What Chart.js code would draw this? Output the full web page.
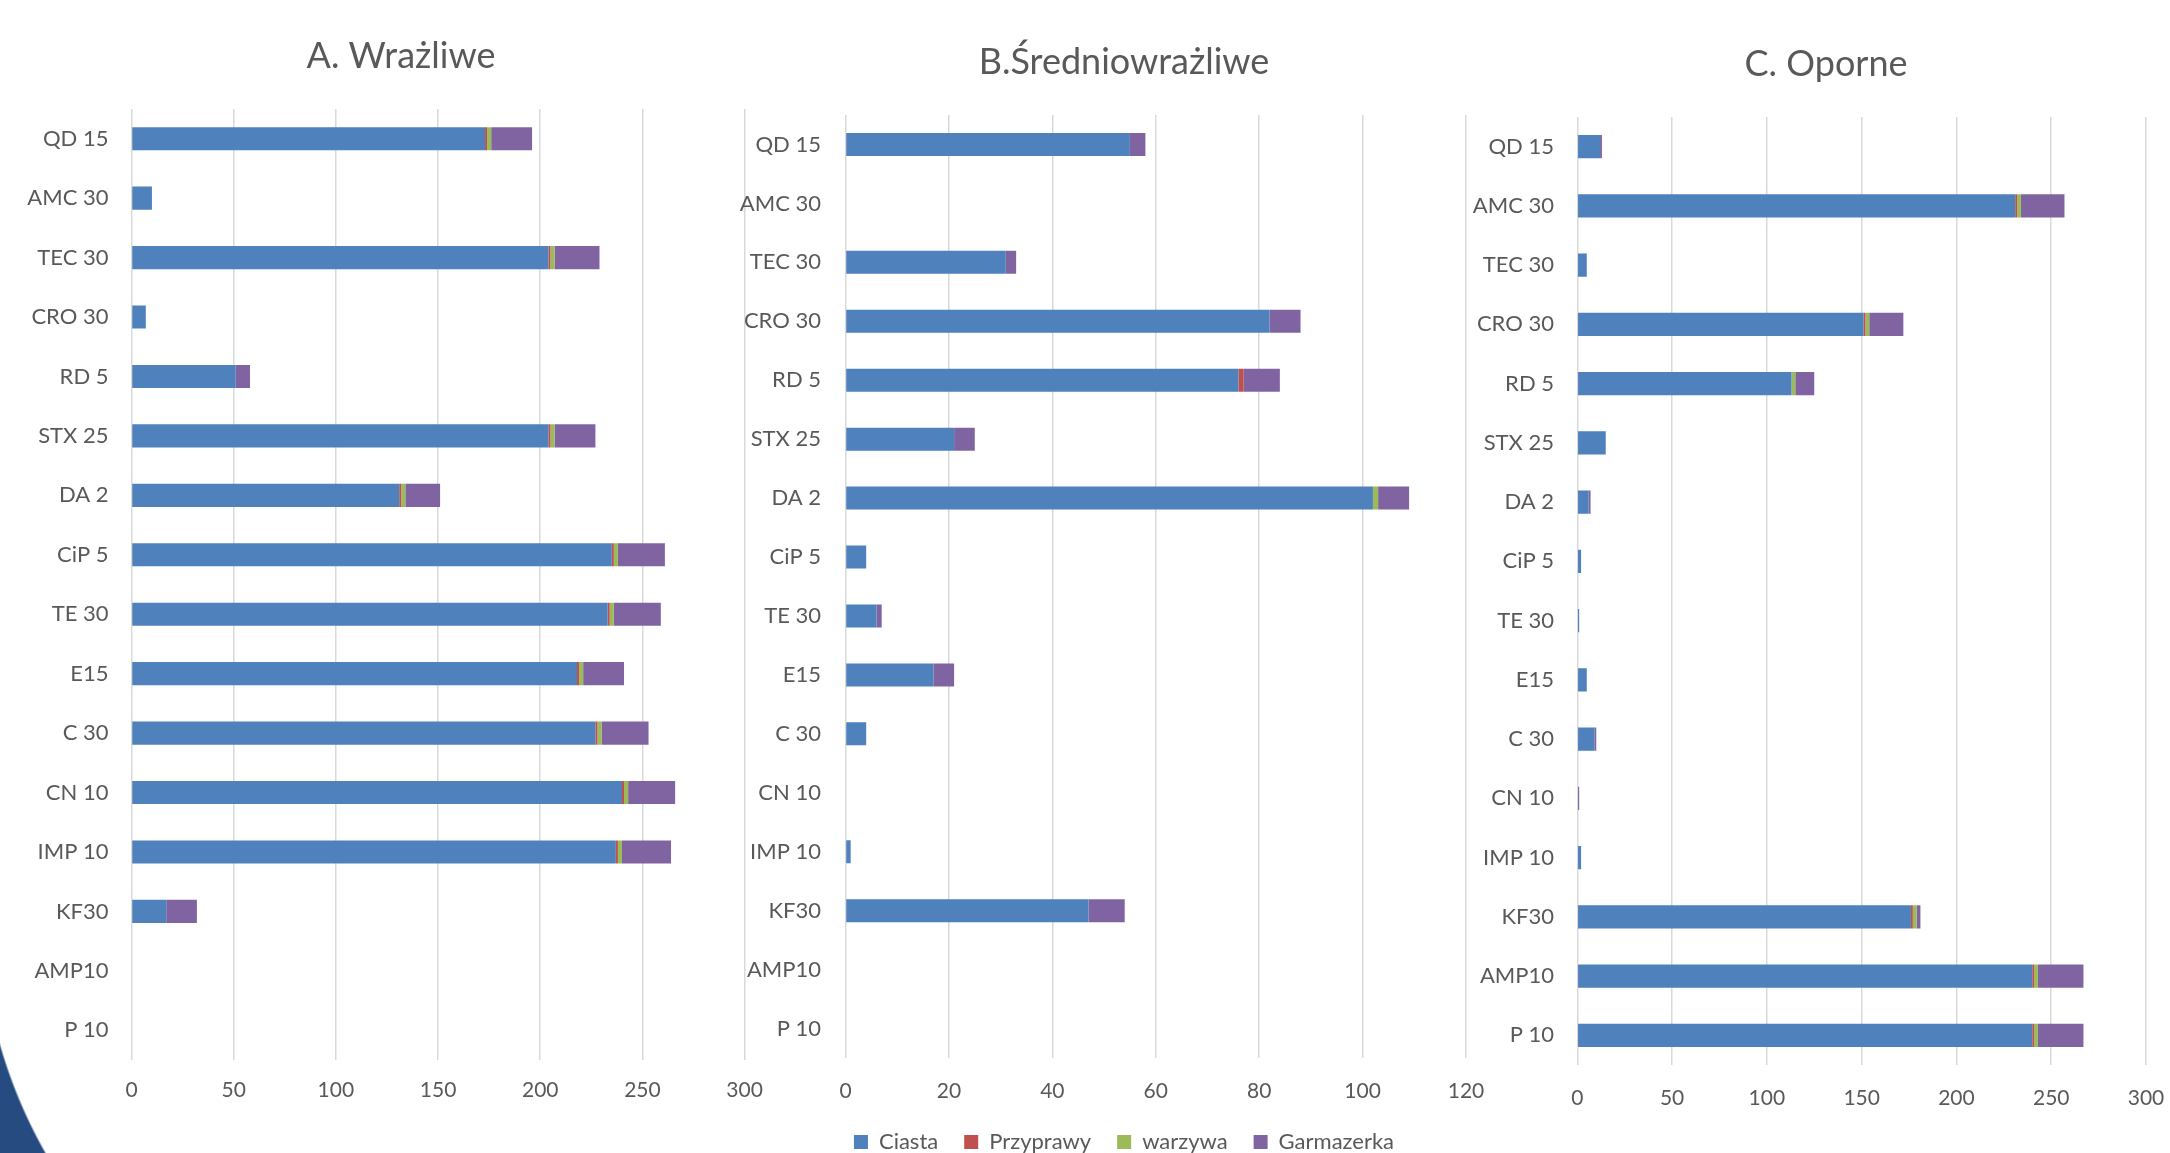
<!DOCTYPE html>
<html lang="pl">
<head>
<meta charset="utf-8">
<title>Wrażliwe / Średniowrażliwe / Oporne</title>
<script src="https://cdn.jsdelivr.net/npm/chart.js@4.4.1/dist/chart.umd.min.js"></script>
<style>
    html, body { margin: 0; padding: 0; width: 2170px; height: 1153px; overflow: hidden; background: #fff; }
    canvas { position: absolute; top: 0; }
    #chartA { left: 0; }
    #chartB { left: 730px; }
    #chartC { left: 1460px; }
    /* dark arc from the slide background, bottom-left corner */
    .corner {
        position: absolute; left: 0; top: 960px; width: 120px; height: 193px;
        background: radial-gradient(circle 494px at 475px -51px, rgba(255,255,255,0) 493px, #264b80 495px);
    }
</style>
</head>
<body>
<div class="corner"></div>
<canvas id="chartA" width="802" height="1153"></canvas>
<canvas id="chartB" width="788" height="1163"></canvas>
<canvas id="chartC" width="732" height="1153"></canvas>
<script>
// Categories (top to bottom)
const categories = ['QD 15', 'AMC 30', 'TEC 30', 'CRO 30', 'RD 5', 'STX 25', 'DA 2', 'CiP 5',
    'TE 30', 'E15', 'C 30', 'CN 10', 'IMP 10', 'KF30', 'AMP10', 'P 10'];

const seriesNames = ['Ciasta', 'Przyprawy', 'warzywa', 'Garmazerka'];
const seriesColors = ['#4F81BD', '#C0504D', '#9BBB59', '#8064A2'];

// A. Wrażliwe
const ciastaA     = [173, 10, 204, 7, 51, 204, 131, 235, 233, 218, 227, 240, 237, 17, 0, 0];
const przyprawyA  = [1, 0, 1, 0, 0, 1, 1, 1, 1, 1, 1, 1, 1, 0, 0, 0];
const warzywaA    = [2, 0, 2, 0, 0, 2, 2, 2, 2, 2, 2, 2, 2, 0, 0, 0];
const garmazerkaA = [20, 0, 22, 0, 7, 20, 17, 23, 23, 20, 23, 23, 24, 15, 0, 0];

// B. Średniowrażliwe
const ciastaB     = [55, 0, 31, 82, 76, 21, 102, 4, 6, 17, 4, 0, 1, 47, 0, 0];
const przyprawyB  = [0, 0, 0, 0, 1, 0, 0, 0, 0, 0, 0, 0, 0, 0, 0, 0];
const warzywaB    = [0, 0, 0, 0, 0, 0, 1, 0, 0, 0, 0, 0, 0, 0, 0, 0];
const garmazerkaB = [3, 0, 2, 6, 7, 4, 6, 0, 1, 4, 0, 0, 0, 7, 0, 0];

// C. Oporne
const ciastaC     = [12, 231, 5, 151, 113, 15, 6, 2, 1, 5, 9, 0, 2, 176, 240, 240];
const przyprawyC  = [0, 1, 0, 1, 0, 0, 0, 0, 0, 0, 0, 0, 0, 1, 1, 1];
const warzywaC    = [0, 2, 0, 2, 2, 0, 0, 0, 0, 0, 0, 0, 0, 2, 2, 2];
const garmazerkaC = [1, 23, 0, 18, 10, 0, 1, 0, 0, 0, 1, 1, 0, 2, 24, 24];

// Axis ticks
const ticksA = { max: 300, step: 50 };
const ticksB = { max: 120, step: 20 };
const ticksC = { max: 300, step: 50 };

Chart.defaults.font.family = 'Lato, "Open Sans", sans-serif';
Chart.defaults.color = '#595959';

function drawPanel(canvasId, title, series, axis, p) {
    new Chart(document.getElementById(canvasId), {
        type: 'bar',
        data: {
            labels: categories,
            datasets: series.map((values, i) => ({
                label: seriesNames[i],
                data: values,
                backgroundColor: seriesColors[i],
                barPercentage: 0.39,
                categoryPercentage: 1
            }))
        },
        options: {
            indexAxis: 'y',
            responsive: false,
            animation: false,
            plugins: {
                title: {
                    display: true,
                    text: title,
                    color: '#595959',
                    font: { size: 36, weight: 'normal' },
                    padding: { top: p.titleTop, bottom: p.titleBottom }
                },
                legend: {
                    display: p.legend,
                    position: 'bottom',
                    labels: { boxWidth: 14, boxHeight: 14, padding: 26, font: { size: 22 }, color: '#595959' }
                },
                tooltip: { enabled: false }
            },
            scales: {
                x: {
                    stacked: true,
                    min: 0,
                    max: axis.max,
                    ticks: { stepSize: axis.step, padding: p.tickPad, font: { size: 21 } },
                    grid: { color: '#d9d9d9', lineWidth: 1.5, drawTicks: false },
                    border: { display: false },
                    afterFit: s => { s.height = p.xHeight; }
                },
                y: {
                    stacked: true,
                    ticks: { padding: p.labelPad, autoSkip: false, font: { size: 22 } },
                    grid: { display: false, drawTicks: false },
                    border: { display: false },
                    afterFit: s => { s.width = p.yWidth; }
                },
                // empty spacer on the right so title and legend sit where they do in the slide
                yRight: {
                    type: 'linear',
                    position: 'right',
                    ticks: { display: false },
                    grid: { display: false, drawTicks: false },
                    border: { display: false },
                    afterFit: s => { s.width = p.rightGap; }
                }
            }
        }
    });
}

drawPanel('chartA', 'A. Wrażliwe', [ciastaA, przyprawyA, warzywaA, garmazerkaA], ticksA, {
    yWidth: 131.5, labelPad: 23, rightGap: 57.4,
    titleTop: 34.4, titleBottom: 31.4, xHeight: 93, tickPad: 17.5, legend: false
});

drawPanel('chartB', 'B.Średniowrażliwe', [ciastaB, przyprawyB, warzywaB, garmazerkaB], ticksB, {
    yWidth: 115.5, labelPad: 24.5, rightGap: 52,
    titleTop: 40.4, titleBottom: 31.4, xHeight: 47, tickPad: 20.5, legend: true
});

drawPanel('chartC', 'C. Oporne', [ciastaC, przyprawyC, warzywaC, garmazerkaC], ticksC, {
    yWidth: 117.3, labelPad: 23.3, rightGap: 46,
    titleTop: 42.4, titleBottom: 31.4, xHeight: 88, tickPad: 20.5, legend: false
});
</script>
</body>
</html>
